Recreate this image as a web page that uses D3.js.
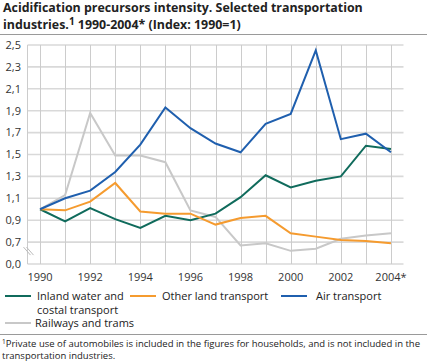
<!DOCTYPE html>
<html>
<head>
<meta charset="utf-8">
<script src="https://cdn.jsdelivr.net/npm/d3@7"></script>
<style>
  html, body { margin: 0; padding: 0; background: #fff; }
  svg { display: block; font-family: "Open Sans", "DejaVu Sans", sans-serif; }
</style>
</head>
<body>
<svg id="chart" width="427" height="364"></svg>
<script>
const years = ["1990","1991","1992","1993","1994","1995","1996","1997","1998","1999","2000","2001","2002","2003","2004"];
const tickYears = ["1990","1992","1994","1996","1998","2000","2002","2004"];
const tickYearLabels = ["1990","1992","1994","1996","1998","2000","2002","2004*"];
const yTicks = [0.7, 0.9, 1.1, 1.3, 1.5, 1.7, 1.9, 2.1, 2.3, 2.5];
const yBreakValue = 0.5; // position of the "0,0" label after the axis break

const inlandWater = [1.00, 0.89, 1.01, 0.91, 0.83, 0.94, 0.90, 0.96, 1.11, 1.31, 1.20, 1.26, 1.30, 1.58, 1.55];
const otherLand   = [1.00, 0.99, 1.07, 1.24, 0.98, 0.96, 0.96, 0.86, 0.92, 0.94, 0.78, 0.75, 0.72, 0.71, 0.69];
const airTransport= [1.00, 1.10, 1.17, 1.34, 1.59, 1.93, 1.74, 1.60, 1.52, 1.78, 1.87, 2.45, 1.64, 1.69, 1.52];
const railways    = [1.00, 1.13, 1.88, 1.49, 1.49, 1.43, 0.99, 0.93, 0.67, 0.69, 0.62, 0.64, 0.73, 0.76, 0.78];

const seriesNames = ["Inland water and costal transport", "Other land transport", "Air transport", "Railways and trams"];
const seriesColors = ["#106b5c", "#f59b2f", "#1f5fae", "#c8c8c8"];
const seriesData = [inlandWater, otherLand, airTransport, railways];

const svg = d3.select("#chart");
const plot = { left: 27.5, right: 403.5, top: 45, bottom: 264 };

const x = d3.scalePoint().domain(years).range([plot.left, plot.right]).padding(0.5);
const y = d3.scaleLinear().domain([yBreakValue, 2.5]).range([plot.bottom, plot.top]);

// Title
const title = svg.append("text").attr("x", 3).attr("y", 11.5)
  .attr("font-size", 12.4).attr("font-weight", "bold").attr("fill", "#222");
title.append("tspan").text("Acidification precursors intensity. Selected transportation");
const t2 = svg.append("text").attr("x", 3).attr("y", 29)
  .attr("font-size", 12.4).attr("font-weight", "bold").attr("fill", "#222");
t2.append("tspan").text("industries.");
t2.append("tspan").attr("dy", -4).attr("font-size", 10).text("1");
t2.append("tspan").attr("dy", 4).text(" 1990-2004* (Index: 1990=1)");

svg.append("line").attr("x1", 0).attr("x2", 427).attr("y1", 34.5).attr("y2", 34.5)
  .attr("stroke", "#9a9a9a").attr("stroke-width", 1);

// Grid: horizontal
const gy = svg.append("g");
gy.selectAll("line.h").data(yTicks).enter().append("line")
  .attr("x1", plot.left).attr("x2", plot.right)
  .attr("y1", d => y(d)).attr("y2", d => y(d))
  .attr("stroke", "#d9d9d9").attr("stroke-width", 1.6);
// bottom baseline
gy.append("line").attr("x1", plot.left).attr("x2", plot.right)
  .attr("y1", y(yBreakValue)).attr("y2", y(yBreakValue))
  .attr("stroke", "#d9d9d9").attr("stroke-width", 1.6);
// vertical gridlines
gy.selectAll("line.v").data(years).enter().append("line")
  .attr("x1", d => Math.round(x(d)) + 0.5).attr("x2", d => Math.round(x(d)) + 0.5)
  .attr("y1", plot.top).attr("y2", plot.bottom)
  .attr("stroke", "#cccccc").attr("stroke-width", 1);
gy.append("line").attr("x1", plot.left).attr("x2", plot.left)
  .attr("y1", plot.top).attr("y2", plot.bottom)
  .attr("stroke", "#cccccc").attr("stroke-width", 1);

// Y axis labels
const fmt = d => d3.format(".1f")(d).replace(".", ",");
svg.append("g").selectAll("text").data(yTicks.concat([yBreakValue])).enter().append("text")
  .attr("x", 21).attr("y", d => y(d)).attr("dy", "0.35em")
  .attr("text-anchor", "end").attr("font-size", 11).attr("fill", "#333")
  .text(d => d === yBreakValue ? "0,0" : fmt(d));

// Axis break marks
const bx = 23.5, by = y(0.7) + 5;
[0, 3].forEach(off => {
  svg.append("line").attr("x1", bx + off).attr("y1", by).attr("x2", bx + off + 7).attr("y2", by + 8)
    .attr("stroke", "#bbbbbb").attr("stroke-width", 1);
});

// X labels
svg.append("g").selectAll("text").data(tickYears).enter().append("text")
  .attr("x", d => x(d)).attr("y", 281)
  .attr("text-anchor", "middle").attr("font-size", 11).attr("fill", "#333")
  .text((d, i) => tickYearLabels[i]);

// Lines
const line = d3.line().x((d, i) => x(years[i])).y(d => y(d));
const order = [3, 0, 1, 2];
order.forEach(k => {
  svg.append("path").datum(seriesData[k]).attr("d", line)
    .attr("fill", "none").attr("stroke", seriesColors[k]).attr("stroke-width", 2)
    .attr("stroke-linejoin", "miter");
});

// Legend
const legendItems = [
  { k: 0, sx: 5, tx: 37, y: 296, lines: ["Inland water and", "costal transport"] },
  { k: 1, sx: 130, tx: 162, y: 296, lines: ["Other land transport"] },
  { k: 2, sx: 281, tx: 316, y: 296, lines: ["Air transport"] },
  { k: 3, sx: 5, tx: 35, y: 323, lines: ["Railways and trams"] }
];
legendItems.forEach(it => {
  svg.append("line").attr("x1", it.sx).attr("x2", it.sx + 26).attr("y1", it.y).attr("y2", it.y)
    .attr("stroke", seriesColors[it.k]).attr("stroke-width", 2);
  const t = svg.append("text").attr("x", it.tx).attr("y", it.y + 4)
    .attr("font-size", 11).attr("fill", "#222");
  it.lines.forEach((s, j) => t.append("tspan").attr("x", it.tx).attr("dy", j === 0 ? 0 : 13.5).text(s));
});

svg.append("line").attr("x1", 0).attr("x2", 427).attr("y1", 334.5).attr("y2", 334.5)
  .attr("stroke", "#9a9a9a").attr("stroke-width", 1);

// Footnote
const fn = svg.append("text").attr("x", 2).attr("y", 347).attr("font-size", 9.5).attr("fill", "#222");
fn.append("tspan").attr("font-size", 6.5).attr("dy", -3).text("1");
fn.append("tspan").attr("dy", 3).text("Private use of automobiles is included in the figures for households, and is not included in the");
svg.append("text").attr("x", 2).attr("y", 359).attr("font-size", 9.5).attr("fill", "#222")
  .text("transportation industries.");
</script>
</body>
</html>
